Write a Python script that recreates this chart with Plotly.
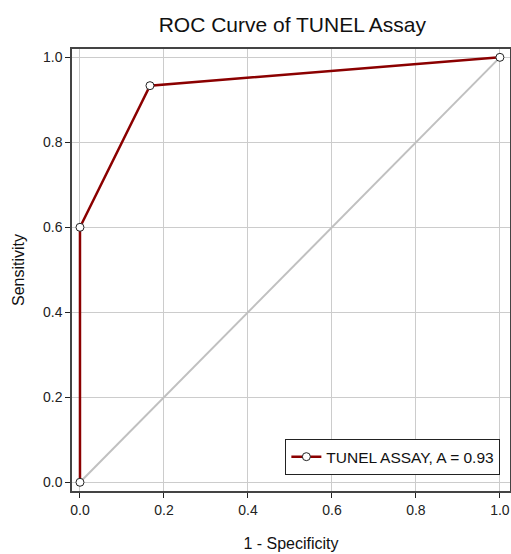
import plotly.graph_objects as go

fpr = [0.0, 0.0, 1/6, 1.0]
tpr = [0.0, 0.6, 14/15, 1.0]
diag_x = [0.0, 1.0]
diag_y = [0.0, 1.0]
ticks = [0.0, 0.2, 0.4, 0.6, 0.8, 1.0]
tick_labels = ["0.0", "0.2", "0.4", "0.6", "0.8", "1.0"]
auc = 0.93

fig = go.Figure()
fig.add_trace(go.Scatter(x=diag_x, y=diag_y, mode="lines",
                         line=dict(color="#c0c0c0", width=2), showlegend=False, hoverinfo="skip"))
fig.add_trace(go.Scatter(x=fpr, y=tpr, mode="lines+markers",
                         name=f"TUNEL ASSAY, A = {auc:.2f}",
                         line=dict(color="#8b0000", width=2.5),
                         marker=dict(size=8, color="white", line=dict(color="#222", width=1))))

axis_common = dict(
    tickvals=ticks, ticktext=tick_labels, showgrid=True, gridcolor="#cccccc", gridwidth=1,
    zeroline=False, showline=True, linecolor="#444", linewidth=1.5, mirror=True,
    ticks="outside", ticklen=5, tickcolor="#222", tickwidth=1.2, automargin=False,
    tickfont=dict(family="Arial, Liberation Sans", size=14, color="#222"),
)
fig.update_xaxes(range=[-0.019, 1.024], title=dict(text="1 - Specificity", font=dict(family="Arial, Liberation Sans", size=16, color="#111"), standoff=21), **axis_common)
fig.update_yaxes(range=[-0.0205, 1.0196], title=dict(text="Sensitivity", font=dict(family="Arial, Liberation Sans", size=16, color="#111"), standoff=14), **axis_common)

fig.update_layout(
    width=511, height=554,
    margin=dict(l=72, r=1, t=49, b=63),
    paper_bgcolor="white", plot_bgcolor="white",
    title=dict(text="ROC Curve of TUNEL Assay", x=0.572, xanchor="center", y=0.955, yref="container", yanchor="middle",
               font=dict(family="Arial, Liberation Sans", size=21, color="#111"), automargin=False),
    legend=dict(x=0.978, y=0.036, xanchor="right", yanchor="bottom",
                bgcolor="white", bordercolor="#222", borderwidth=1,
                font=dict(family="Arial, Liberation Sans", size=15.5, color="#111")),
    showlegend=True,
)
fig.write_html("out.html", config={"displayModeBar": False},
               post_script="document.body.style.margin='0';document.body.style.overflow='hidden';")
